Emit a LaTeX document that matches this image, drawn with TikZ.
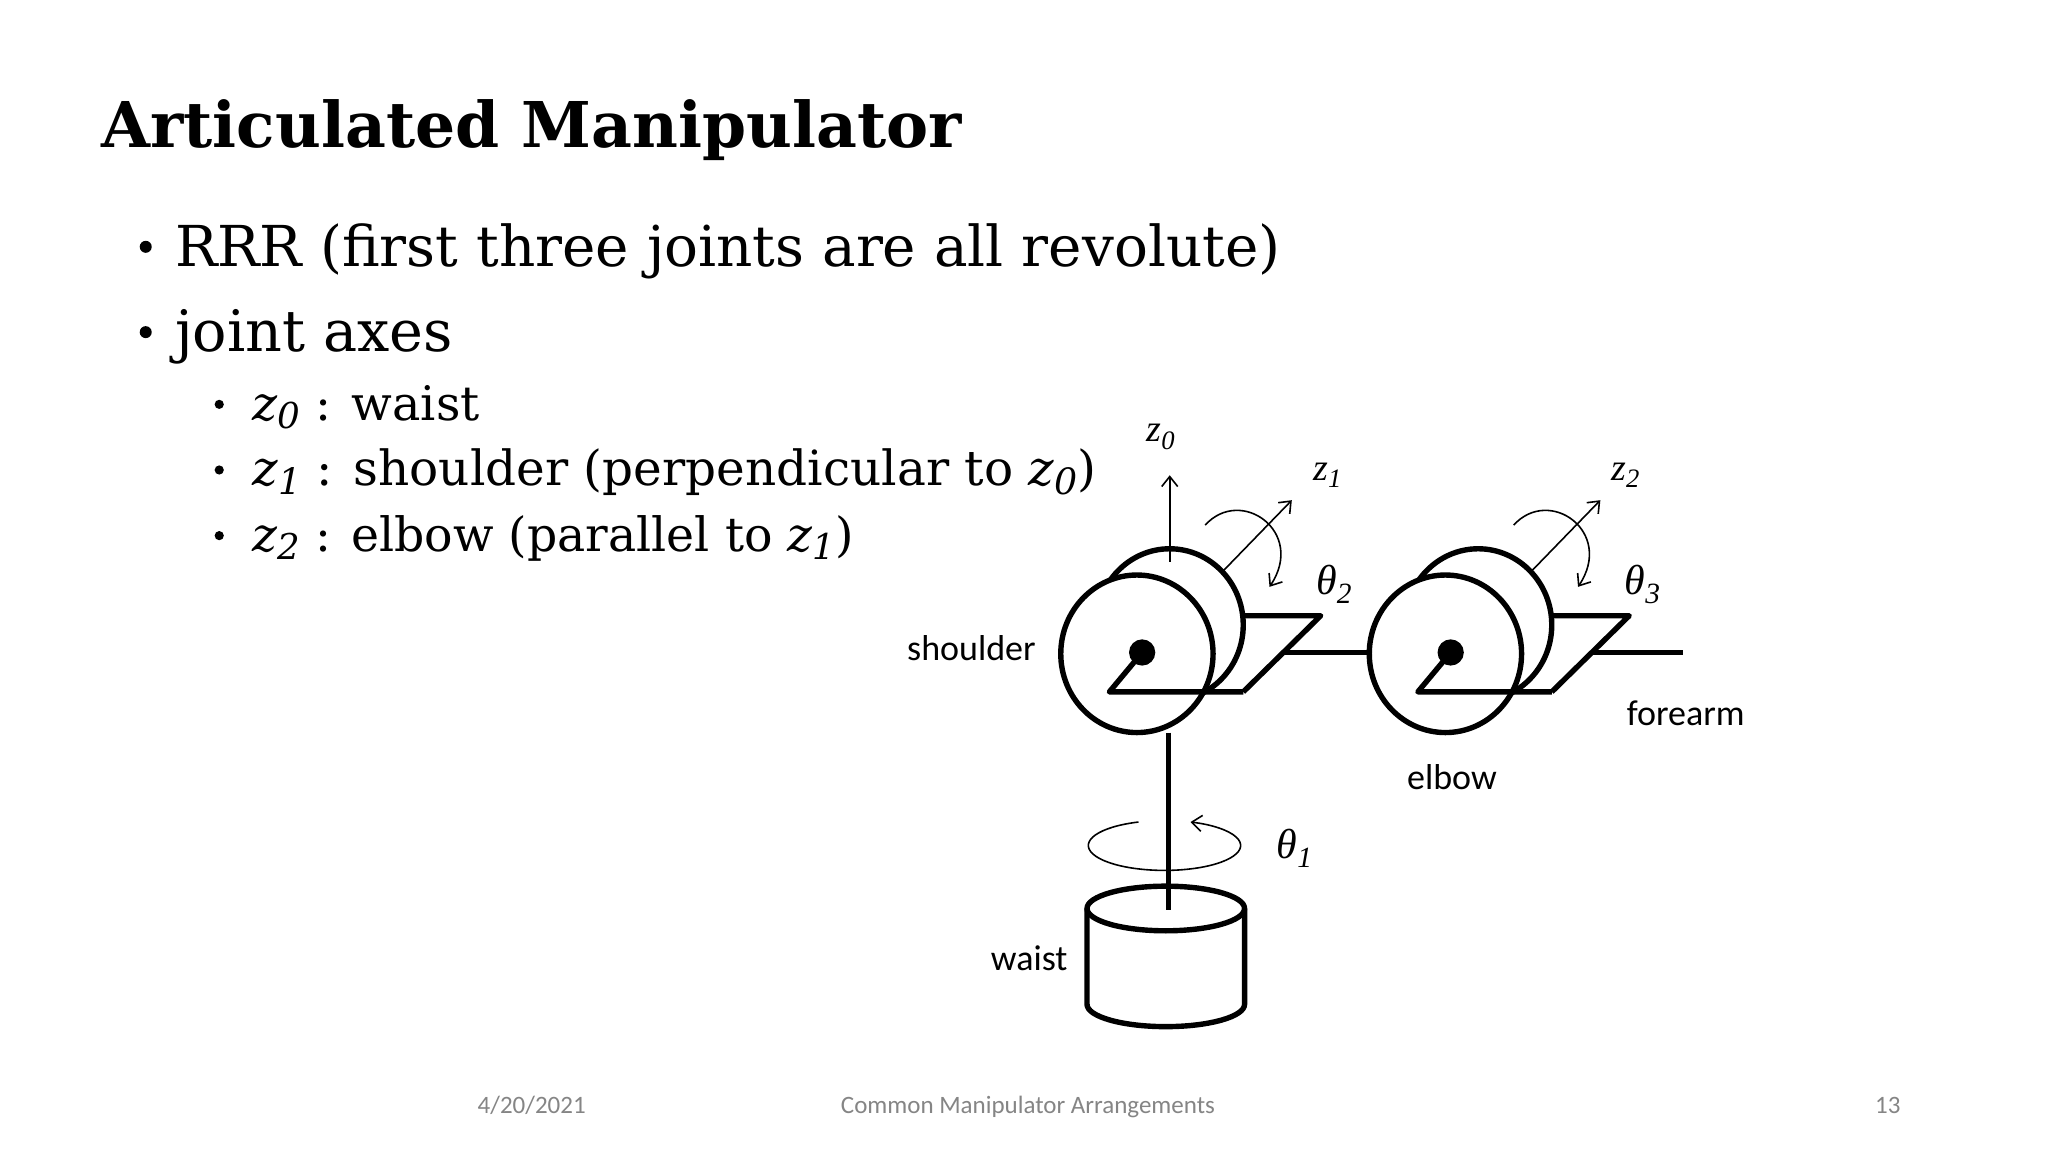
\documentclass[tikz,border=0pt]{standalone}
\usepackage{fontspec}
\usetikzlibrary{arrows.meta}
\setmainfont{DejaVu Serif}
\newfontfamily\calfont{Carlito}
\newfontfamily\tnr{Liberation Serif}
\newcommand{\zsub}[1]{\textit{z}\raisebox{-0.35ex}{\scalebox{0.75}{\textit{#1}}}}
\newcommand{\mlab}[2]{{\tnr\itshape #1\raisebox{-0.45ex}{\scalebox{0.7}{#2}}}}
\begin{document}
\begin{tikzpicture}[x=0.6564pt,y=-0.6564pt,
  heavy/.style={line width=2.7pt,line join=round},
  thinarrow/.style={line width=0.8pt,-{Straight Barb[length=5pt,width=8pt]}},
  lab/.style={font=\calfont\fontsize{18}{20}\selectfont,inner sep=0pt},
  mathlab/.style={font=\tnr\fontsize{19}{21}\selectfont,inner sep=0pt},
  thlab/.style={font=\tnr\fontsize{21}{23}\selectfont,inner sep=0pt},
  foot/.style={font=\calfont\fontsize{12.5}{14}\selectfont,text=black!48,inner sep=0pt,anchor=base},
  bul/.style={anchor=base west,inner sep=0pt},
  dotA/.style={circle,fill=black,inner sep=0pt,minimum size=6pt},
  dotB/.style={circle,fill=black,inner sep=0pt,minimum size=4.6pt}]
\useasboundingbox[fill=white] (0,0) rectangle (1560,877.5);

% text
\node[bul] (title) at (77,112) {\resizebox{430pt}{!}{\bfseries Articulated Manipulator}};
\node[dotA] (b1) at (111,188) {};
\node[bul] (t1) at (133,203) {\resizebox{552.7pt}{!}{RRR (first three joints are all revolute)}};
\node[dotA] (b2) at (111,253) {};
\node[bul] (t2) at (133,268) {\resizebox{139pt}{!}{joint axes}};
\node[dotB] (b3) at (167,308) {};
\node[bul] (t3) at (192,320) {\resizebox{113.6pt}{!}{\zsub{0} : waist}};
\node[dotB] (b4) at (167,358) {};
\node[bul] (t4) at (192,370) {\resizebox{422pt}{!}{\zsub{1} : shoulder (perpendicular to \zsub{0})}};
\node[dotB] (b5) at (167,408) {};
\node[bul] (t5) at (192,420) {\resizebox{300.6pt}{!}{\zsub{2} : elbow (parallel to \zsub{1})}};

% joints
\foreach \dx in {0,235}{
\begin{scope}[shift={(\dx,0)}]
  \draw[heavy] (891,476) circle[x radius=56,y radius=58];
  \draw[heavy] (947,469) -- (1006,469) -- (947,527);
  \filldraw[heavy,fill=white] (866,498) circle[x radius=58,y radius=60];
  \draw[heavy] (870,497) -- (845,527) -- (947,527);
  \fill (870,497) circle[radius=10];
  \draw[thinarrow] (931.6,435) -- (984,381);
  \draw[thinarrow] (918,400) .. controls (945,370) and (995,405) .. (967,447);
\end{scope}}
\draw[heavy] (977,497) -- (1043.5,497);
\draw[heavy] (1212,497) -- (1282,497);

% waist
\draw[heavy] (890,558) -- (890,693);
\draw[thinarrow] (891,428) -- (891,362);
\draw[thinarrow] (887,644) ++(250:58 and 19) arc[start angle=250,end angle=-70,x radius=58,y radius=19];
\draw[heavy] (888,692) circle[x radius=60,y radius=17];
\draw[heavy] (828,692) -- (828,765) arc[start angle=180,end angle=0,x radius=60,y radius=17] -- (948,692);

% labels
\node[lab] (shl) at (740,494) {shoulder};
\node[lab] (elb) at (1106,592) {elbow};
\node[lab] (fa) at (1284,543) {forearm};
\node[lab] (wa) at (784,730) {waist};
\node[mathlab] (z0) at (884,333) {\mlab{z}{0}};
\node[mathlab] (z1) at (1011,362) {\mlab{z}{1}};
\node[mathlab] (z2) at (1238,362) {\mlab{z}{2}};
\node[thlab] (th2) at (1016,445) {\mlab{\symbol{"03B8}}{2}};
\node[thlab] (th3) at (1251,445) {\mlab{\symbol{"03B8}}{3}};
\node[thlab] (th1) at (986,646) {\mlab{\symbol{"03B8}}{1}};

% footer
\node[foot] (date) at (405,848) {4/20/2021};
\node[foot] (ftitle) at (783,848) {Common Manipulator Arrangements};
\node[foot] (pg) at (1438,848) {13};
\end{tikzpicture}
\end{document}
